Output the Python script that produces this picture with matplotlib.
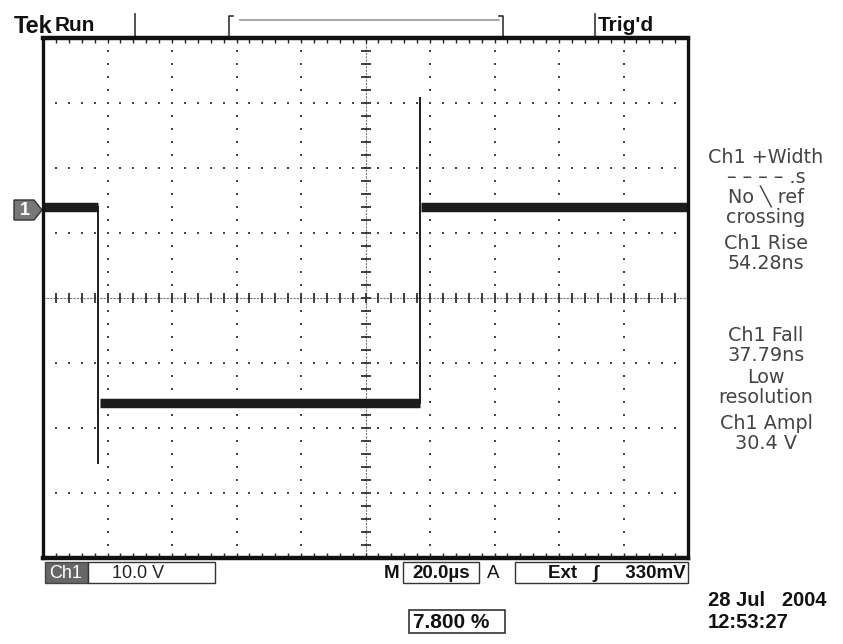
import numpy as np
import matplotlib
matplotlib.use("Agg")
import matplotlib.pyplot as plt
from matplotlib.patches import Rectangle, Polygon

# --- Scope settings / readings ---
VOLTS_PER_DIV = 10.0
US_PER_DIV = 20.0
N_XDIV = 10
N_YDIV = 8

# trace (time in us from screen centre, volts)
high_level_v = 14.0
low_level_v = -16.2
fall_t_us = -82.9
rise_t_us = 16.9
fall_spike_v = -25.4
rise_spike_v = 30.8

measure_lines = ["Ch1 +Width", "\u2013 \u2013 \u2013 \u2013 .s", "No \u2572 ref", "crossing",
                 "Ch1 Rise", "54.28ns", "Ch1 Fall", "37.79ns", "Low",
                 "resolution", "Ch1 Ampl", "30.4 V"]
measure_y_px = [157, 177, 197, 217, 243, 263, 335, 355, 377, 397, 423, 443]

ch_label = "Ch1"
ch_scale = "10.0 V"
time_scale = "20.0\u00b5s"
trig_text = "Ext   \u0283     330mV"
duty_text = "7.800 %"
date_text = "28 Jul   2004"
time_text = "12:53:27"

W, H = 843, 644
BOX_L, BOX_R, BOX_T, BOX_B = 43, 688, 38, 558
NARROW = ["Liberation Sans", "DejaVu Sans"]

fig = plt.figure(figsize=(W / 100, H / 100), dpi=100)
fig.patch.set_facecolor("white")

# overlay in pixel coordinates for the status text
bg = fig.add_axes([0, 0, 1, 1])
bg.set_xlim(0, W)
bg.set_ylim(H, 0)
bg.axis("off")

# graticule axes in divisions
ax = fig.add_axes([BOX_L / W, 1 - BOX_B / H, (BOX_R - BOX_L) / W, (BOX_B - BOX_T) / H])
ax.set_xlim(0, N_XDIV)
ax.set_ylim(-N_YDIV / 2, N_YDIV / 2)
ax.set_xticks([])
ax.set_yticks([])
for s in ax.spines.values():
    s.set_linewidth(2.4)
    s.set_color("#111111")
ax.spines["top"].set_linewidth(3.2)
ax.spines["bottom"].set_linewidth(3.2)

# dotted grid
minor = np.arange(0, N_XDIV + 0.01, 0.2)
minor_y = np.arange(-N_YDIV / 2, N_YDIV / 2 + 0.01, 0.2)
for gx in range(1, N_XDIV):
    ax.plot(np.full_like(minor_y, gx), minor_y, ls="none", marker="s", ms=1.6, color="#444444", mew=0)
for gy in range(-N_YDIV // 2 + 1, N_YDIV // 2):
    ax.plot(minor, np.full_like(minor, gy), ls="none", marker="s", ms=1.6, color="#444444", mew=0)

# centre crosshair with ticks
ax.axhline(0, color="#777777", lw=0.8, ls=(0, (2, 1)))
ax.axvline(N_XDIV / 2, color="#777777", lw=0.8, ls=(0, (2, 1)))
ax.plot(minor, np.zeros_like(minor), ls="none", marker="|", ms=7, mew=1.3, color="#333333")
ax.plot(np.full_like(minor_y, N_XDIV / 2), minor_y, ls="none", marker="_", ms=7, mew=1.3, color="#333333")

# border ticks
ax.plot(minor, np.full_like(minor, N_YDIV / 2), ls="none", marker=3, ms=3.5, mew=1.0, color="#222222")
ax.plot(minor, np.full_like(minor, -N_YDIV / 2), ls="none", marker=2, ms=3.5, mew=1.0, color="#222222")
ax.plot(np.zeros_like(minor_y), minor_y, ls="none", marker=0, ms=3.5, mew=1.0, color="#222222")
ax.plot(np.full_like(minor_y, N_XDIV), minor_y, ls="none", marker=1, ms=3.5, mew=1.0, color="#222222")

# trace
def tx(t_us):
    return t_us / US_PER_DIV + N_XDIV / 2

def vy(v):
    return v / VOLTS_PER_DIV

tc = "#1c1c1c"
ax.plot([0, tx(fall_t_us)], [vy(high_level_v)] * 2, color=tc, lw=6.8, solid_capstyle="butt")
ax.plot([tx(fall_t_us) + 0.03, tx(rise_t_us)], [vy(low_level_v)] * 2, color=tc, lw=6.8, solid_capstyle="butt")
ax.plot([tx(rise_t_us) + 0.02, N_XDIV], [vy(high_level_v)] * 2, color=tc, lw=6.8, solid_capstyle="butt")
ax.plot([tx(fall_t_us)] * 2, [vy(high_level_v), vy(fall_spike_v)], color=tc, lw=1.4)
ax.plot([tx(rise_t_us)] * 2, [vy(low_level_v), vy(rise_spike_v)], color=tc, lw=1.4)

# --- top status bar ---
bg.text(14, 33, "Tek", fontsize=17, fontweight="bold", family=NARROW, va="baseline", color="#111111")
bg.text(55, 31, "Run", fontsize=15, fontweight="bold", family=NARROW, va="baseline", color="#111111")
bg.plot([135, 135], [14, 38], color="#333333", lw=1.2)
bg.plot([595, 595], [14, 38], color="#333333", lw=1.2)
bg.plot([229, 229, 233], [36, 16, 16], color="#333333", lw=1.2)
bg.plot([503, 503, 499], [36, 16, 16], color="#333333", lw=1.2)
bg.plot([240, 499], [20, 20], color="#999999", lw=1.2)
bg.text(598, 31, "Trig'd", fontsize=15, fontweight="bold", family=NARROW, va="baseline", color="#111111")

# channel marker
bg.add_patch(Polygon([[14, 200], [34, 200], [42, 210], [34, 220], [14, 220]], closed=True,
                     facecolor="#777777", edgecolor="#333333", lw=1))
bg.text(25, 210, "1", fontsize=13, fontweight="bold", color="white", ha="center", va="center",
        family=NARROW)

# right measurement panel
for txt, y in zip(measure_lines, measure_y_px):
    bg.text(766, y, txt, fontsize=13.8, color="#444444", ha="center", va="center", family="DejaVu Sans")

# --- bottom status bar ---
bg.add_patch(Rectangle((45, 562), 43, 21, facecolor="#666666", edgecolor="#444444", lw=1))
bg.text(66, 573, ch_label, fontsize=13, color="white", ha="center", va="center", family=NARROW)
bg.add_patch(Rectangle((88, 562), 127, 21, facecolor="white", edgecolor="#333333", lw=1))
bg.text(112, 573, ch_scale, fontsize=13, color="#222222", ha="left", va="center", family=NARROW)

bg.text(384, 573, "M", fontsize=13.5, fontweight="bold", color="#111111", ha="left", va="center", family=NARROW)
bg.add_patch(Rectangle((403, 562), 76, 21, facecolor="white", edgecolor="#333333", lw=1))
bg.text(441, 573, time_scale, fontsize=13.5, fontweight="bold", color="#111111", ha="center", va="center", family=NARROW)
bg.text(487, 573, "A", fontsize=13.5, color="#111111", ha="left", va="center", family=NARROW)
bg.add_patch(Rectangle((515, 562), 173, 21, facecolor="white", edgecolor="#333333", lw=1))
bg.text(686, 573, trig_text, fontsize=13.5, fontweight="bold", color="#111111", ha="right", va="center", family=NARROW)

bg.add_patch(Rectangle((409, 610), 96, 23, facecolor="white", edgecolor="#333333", lw=1.2))
bg.text(413, 622, duty_text, fontsize=15, fontweight="bold", color="#111111", ha="left", va="center", family=NARROW)

bg.text(708, 600, date_text, fontsize=14.5, fontweight="bold", color="#111111", ha="left", va="center", family=NARROW)
bg.text(708, 622, time_text, fontsize=14.5, fontweight="bold", color="#111111", ha="left", va="center", family=NARROW)

fig.savefig("out.png", dpi=100)
